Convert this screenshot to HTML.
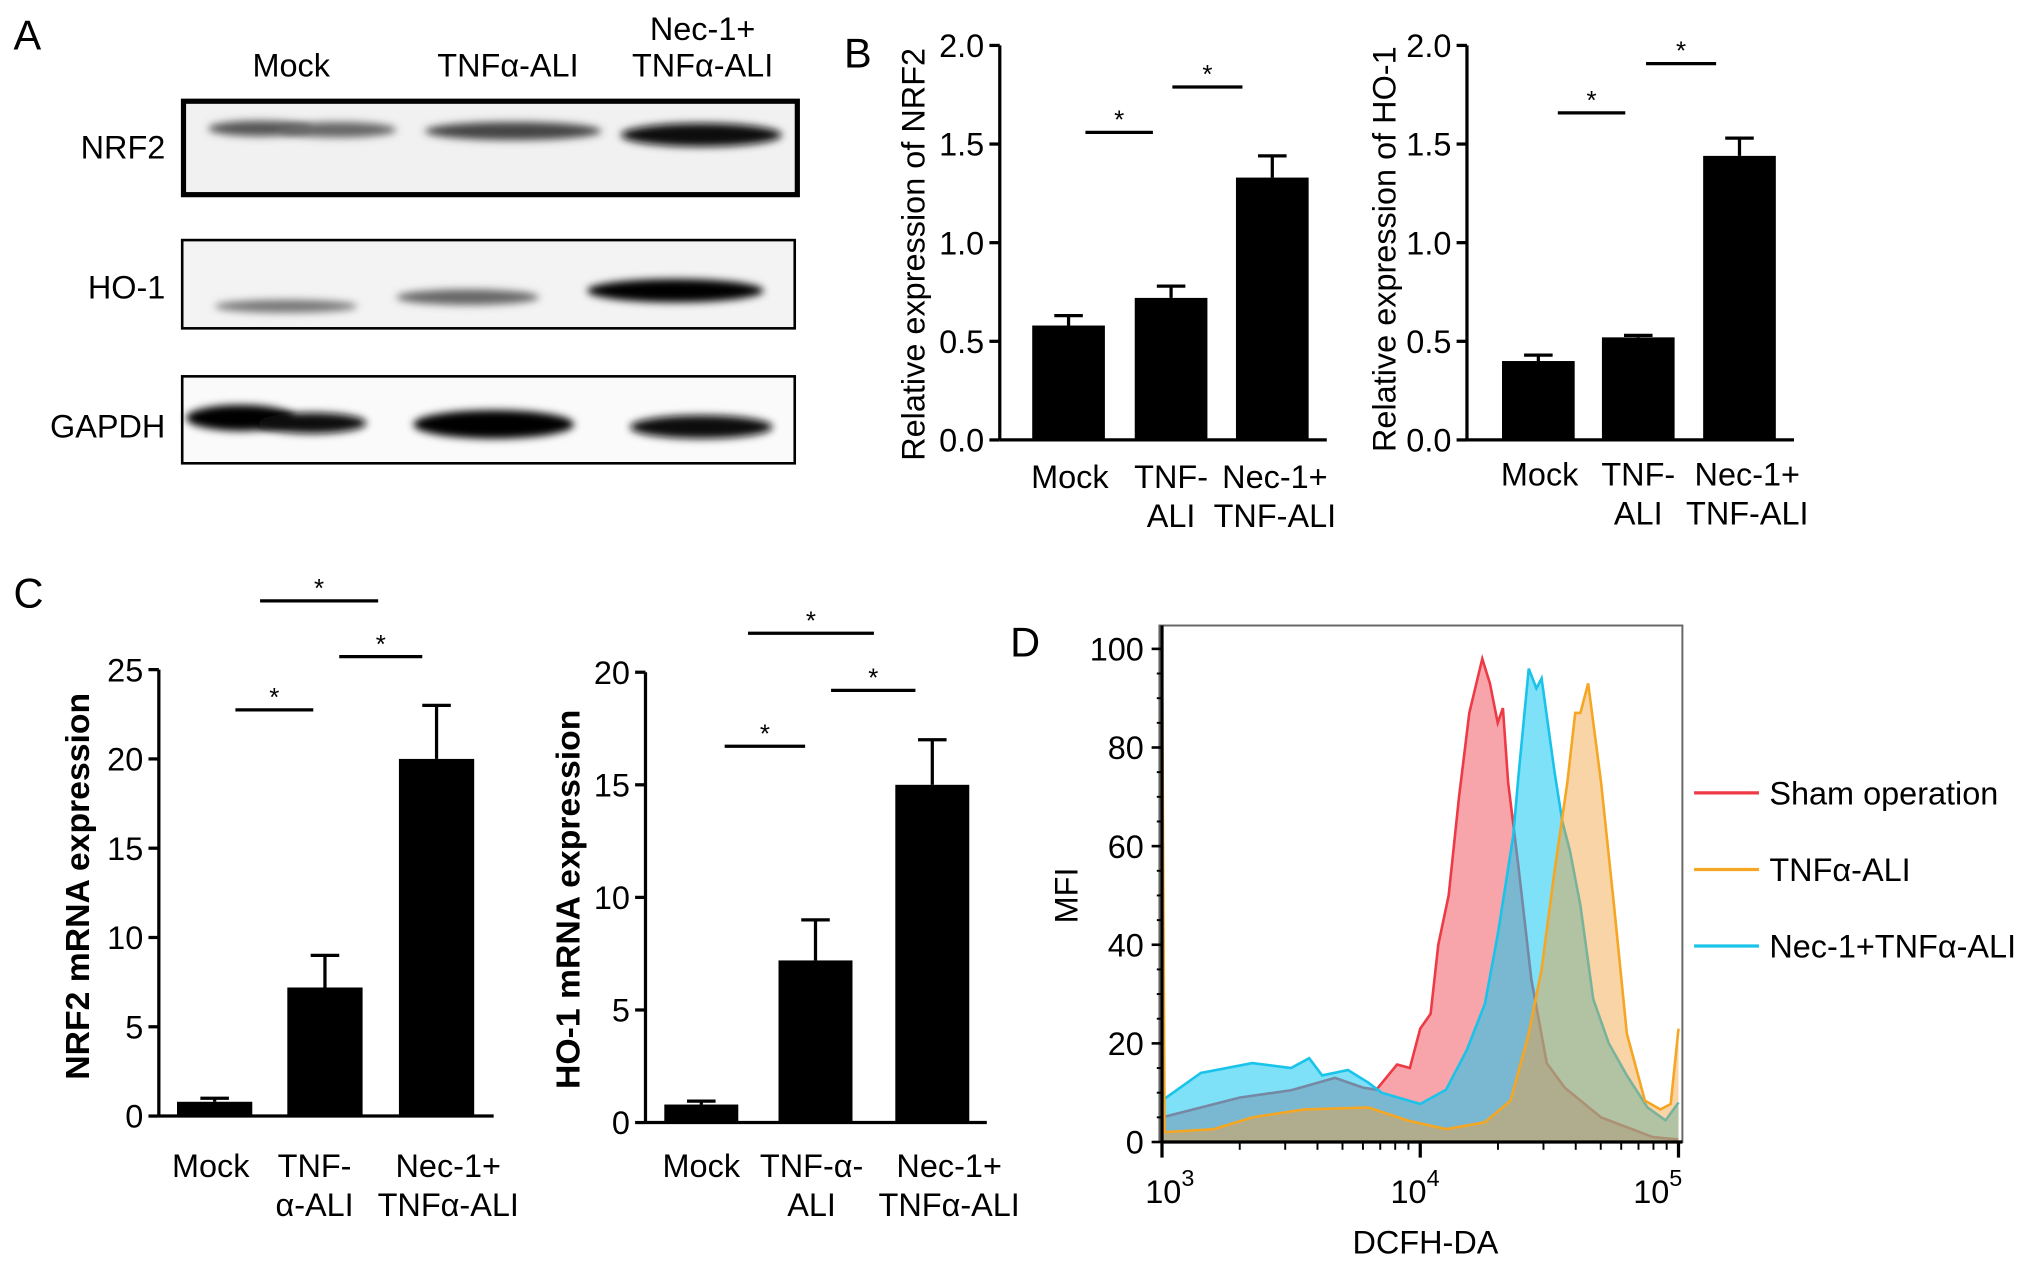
<!DOCTYPE html>
<html><head><meta charset="utf-8">
<style>
html,body{margin:0;padding:0;background:#fff;}
svg{display:block;font-family:"Liberation Sans",sans-serif;}
</style></head>
<body>
<svg id="fig" width="2032" height="1264" viewBox="0 0 1565 974" xmlns="http://www.w3.org/2000/svg">
<defs>
<filter id="blur2" x="-20%" y="-100%" width="140%" height="300%"><feGaussianBlur stdDeviation="3"/></filter>
</defs>
<g id="panelA">
<text x="10" y="38" font-size="32">A</text>
<text x="224" y="59" font-size="25" text-anchor="middle">Mock</text>
<text x="391" y="59" font-size="25" text-anchor="middle">TNFα-ALI</text>
<text x="541" y="31" font-size="25" text-anchor="middle">Nec-1+</text>
<text x="541" y="59" font-size="25" text-anchor="middle">TNFα-ALI</text>
<text x="127" y="122" font-size="25" text-anchor="end">NRF2</text>
<text x="127" y="230" font-size="25" text-anchor="end">HO-1</text>
<text x="127" y="337" font-size="25" text-anchor="end">GAPDH</text>
<g>
<rect x="141" y="78" width="473" height="72" fill="#f1f1f1" stroke="#000" stroke-width="4"/>
<ellipse cx="200" cy="99" rx="40" ry="6" fill="#555" filter="url(#blur2)"/>
<ellipse cx="260" cy="100" rx="45" ry="6" fill="#666" filter="url(#blur2)"/>
<ellipse cx="395" cy="101" rx="68" ry="7" fill="#444" filter="url(#blur2)"/>
<ellipse cx="540" cy="104" rx="62" ry="9" fill="#111" filter="url(#blur2)"/>
</g>
<g>
<rect x="140" y="185" width="472" height="68" fill="#f3f3f3" stroke="#000" stroke-width="2"/>
<ellipse cx="220" cy="236" rx="55" ry="5" fill="#777" filter="url(#blur2)"/>
<ellipse cx="360" cy="229" rx="55" ry="6" fill="#666" filter="url(#blur2)"/>
<ellipse cx="520" cy="224" rx="68" ry="9" fill="#000" filter="url(#blur2)"/>
</g>
<g>
<rect x="140" y="290" width="472" height="67" fill="#fafafa" stroke="#000" stroke-width="2"/>
<ellipse cx="185" cy="322" rx="42" ry="10" fill="#000" filter="url(#blur2)"/>
<ellipse cx="240" cy="326" rx="42" ry="8" fill="#111" filter="url(#blur2)"/>
<ellipse cx="380" cy="327" rx="62" ry="11" fill="#000" filter="url(#blur2)"/>
<ellipse cx="540" cy="329" rx="55" ry="9" fill="#111" filter="url(#blur2)"/>
</g>
</g>
<g id="bars"></g>
<g id="flow"></g>
</svg>
<script>
// ---------- Bar chart data ----------
const cats = ["Mock", "TNF", "Nec"];
const bNrf2Vals = [0.58, 0.72, 1.33];
const bNrf2Err = [0.05, 0.06, 0.11];
const bHo1Vals = [0.40, 0.52, 1.44];
const bHo1Err = [0.03, 0.01, 0.09];
const cNrf2Vals = [0.8, 7.2, 20];
const cNrf2Err = [0.2, 1.8, 3];
const cHo1Vals = [0.8, 7.2, 15];
const cHo1Err = [0.15, 1.8, 2];
const bTicks = [0, 0.5, 1.0, 1.5, 2.0];
const bTickLabels = ["0.0", "0.5", "1.0", "1.5", "2.0"];
const cNrf2Ticks = [0, 5, 10, 15, 20, 25];
const cHo1Ticks = [0, 5, 10, 15, 20];
// ---------- Flow histogram data (log10 fluorescence, % max) ----------
const redX = [3.0,3.15,3.3,3.5,3.67,3.78,3.83,3.91,3.96,4.0,4.04,4.07,4.11,4.15,4.19,4.24,4.27,4.3,4.32,4.34,4.38,4.43,4.49,4.56,4.7,4.9,5.0];
const redY = [5,7,9,10.5,13,11,10.6,15.7,15,23,26,40,50,70,87,98,93,85,88,73,56,33,16,11,5,1,0.5];
const cyanX = [3.0,3.15,3.35,3.5,3.57,3.62,3.72,3.8,3.85,4.0,4.1,4.18,4.25,4.3,4.36,4.38,4.42,4.45,4.47,4.52,4.55,4.58,4.62,4.67,4.73,4.8,4.88,4.95,5.0];
const cyanY = [8.4,14,16,15,17,13.5,14.6,12,10,7.7,10.6,18.6,28,42,62,74,96,92,94,75,65,59,48,29,20,13.5,7,4.4,8];
const orangeX = [3.0,3.01,3.2,3.35,3.55,3.8,3.95,4.1,4.25,4.35,4.42,4.47,4.52,4.57,4.6,4.62,4.65,4.7,4.75,4.8,4.87,4.93,4.97,5.0];
const orangeY = [100,2,2.6,5,6.6,7,4.4,2.6,4,8.4,22,35,55,73,87,87,93,73,48,22,8.4,6.6,7.7,23];
const flowYTicks = [0,20,40,60,80,100];
const legendLabels = ["Sham operation","TNFα-ALI","Nec-1+TNFα-ALI"];
const legendColors = ["#ee3a45","#f5a623","#19c3ea"];

const NS = "http://www.w3.org/2000/svg";
function mk(tag, attrs, parent, text){
  const e = document.createElementNS(NS, tag);
  for (const k in attrs) e.setAttribute(k, attrs[k]);
  if (text !== undefined) e.textContent = text;
  parent.appendChild(e);
  return e;
}
const barsG = document.getElementById("bars");

function barChart(cfg){
  const g = mk("g", {}, barsG);
  
  
  const y = v => cfg.y0 - (v / cfg.ymax) * (cfg.y0 - cfg.y1);
  const fs = cfg.fs;
  const ax = mk("line", {x1:cfg.ax, y1:y(cfg.ymax), x2:cfg.ax, y2:cfg.y0, stroke:"#000","stroke-width":2.5}, g);
  
  
  const xa = mk("line", {x1:cfg.ax, y1:cfg.y0, x2:cfg.xend, y2:cfg.y0, stroke:"#000","stroke-width":2.5}, g);
  
  
  cfg.ticks.forEach((t,i) => {
    mk("line", {x1:cfg.ax-8, y1:y(t), x2:cfg.ax, y2:y(t), stroke:"#000","stroke-width":2.5}, g);
    const tl = mk("text", {x:cfg.ax-12, y:y(t)+9, "font-size":fs, "text-anchor":"end"}, g, cfg.tickLabels ? cfg.tickLabels[i] : String(t));
    
    
  });
  cats.forEach((c,i) => {
    const cx = cfg.centers[i], v = cfg.vals[i], e = cfg.errs[i];
    mk("line", {x1:cx, y1:y(v+e), x2:cx, y2:y(v), stroke:"#000","stroke-width":2.5}, g);
    mk("line", {x1:cx-11, y1:y(v+e), x2:cx+11, y2:y(v+e), stroke:"#000","stroke-width":2.5}, g);
    const r = mk("rect", {x:cx-cfg.bw/2, y:y(v), width:cfg.bw, height:cfg.y0-y(v), fill:"#000"}, g);
    
    
    cfg.xlabels[i].forEach((s,j) => {
      const t = mk("text", {x:cfg.lx[i], y:cfg.ly + j*30, "font-size":fs, "text-anchor":"middle"}, g, s);
      
      
    });
  });
  cfg.sig.forEach(s => {
    const l = mk("line", {x1:s[0], y1:s[2], x2:s[1], y2:s[2], stroke:"#000","stroke-width":2.5}, g);
    
    
    const st = mk("text", {x:(s[0]+s[1])/2, y:s[2]-3, "font-size":20, "text-anchor":"middle"}, g, "*");
    
    
  });
  const tt = mk("text", {x:cfg.tx, y:cfg.ty, "font-size":cfg.tfs, "text-anchor":"middle", "font-weight":cfg.bold?"bold":"normal", transform:`rotate(-90 ${cfg.tx} ${cfg.ty})`}, g, cfg.title);
  
  
}

const lb = mk("text", {x:650, y:52, "font-size":32}, barsG, "B");


const lc = mk("text", {x:10, y:468, "font-size":32}, barsG, "C");



barChart({name:"chart-b-nrf2", ax:770, xend:1022, y0:339, y1:35, ymax:2.0, ticks:bTicks, tickLabels:bTickLabels,
  vals:bNrf2Vals, errs:bNrf2Err, centers:[823,902,980], bw:56, fs:25,
  xlabels:[["Mock"],["TNF-","ALI"],["Nec-1+","TNF-ALI"]], lx:[824,902,982], ly:376,
  sig:[[836,888,102],[903,957,67]], title:"Relative expression of NRF2", tx:712, ty:196, tfs:25});
barChart({name:"chart-b-ho1", ax:1130, xend:1382, y0:339, y1:35, ymax:2.0, ticks:bTicks, tickLabels:bTickLabels,
  vals:bHo1Vals, errs:bHo1Err, centers:[1185,1262,1340], bw:56, fs:25,
  xlabels:[["Mock"],["TNF-","ALI"],["Nec-1+","TNF-ALI"]], lx:[1186,1262,1346], ly:374,
  sig:[[1200,1252,87],[1268,1322,49]], title:"Relative expression of HO-1", tx:1075, ty:192, tfs:25});
barChart({name:"chart-c-nrf2", ax:122, xend:380, y0:860, y1:516, ymax:25, ticks:cNrf2Ticks,
  vals:cNrf2Vals, errs:cNrf2Err, centers:[165,250,336], bw:58, fs:25,
  xlabels:[["Mock"],["TNF-","α-ALI"],["Nec-1+","TNFα-ALI"]], lx:[162,242,345], ly:907,
  sig:[[181,241,547],[200,291,463],[261,325,506]], title:"NRF2 mRNA expression", tx:68, ty:683, tfs:26, bold:true});
barChart({name:"chart-c-ho1", ax:497, xend:760, y0:865, y1:518, ymax:20, ticks:cHo1Ticks,
  vals:cHo1Vals, errs:cHo1Err, centers:[540,628,718], bw:57, fs:25,
  xlabels:[["Mock"],["TNF-α-","ALI"],["Nec-1+","TNFα-ALI"]], lx:[540,625,731], ly:907,
  sig:[[558,620,575],[576,673,488],[640,705,532]], title:"HO-1 mRNA expression", tx:446, ty:693, tfs:26, bold:true});

// ---------- Flow panel ----------
const flowG = document.getElementById("flow");


const fx0 = 895, fx1 = 1293, fy0 = 880, fy1 = 500;
const fx = l => fx0 + (l - 3) / 2 * (fx1 - fx0);
const fy = v => fy0 - v / 100 * (fy0 - fy1);
const ld = mk("text", {x:778, y:506, "font-size":32}, flowG, "D");


const box = mk("rect", {x:893, y:482, width:403, height:398, fill:"none", stroke:"#666", "stroke-width":1.5}, flowG);


function hist(xs, ys, stroke, fill, name){
  let d = `M${fx(xs[0])},${fy0}`;
  xs.forEach((x,i) => { d += ` L${fx(x).toFixed(1)},${fy(ys[i]).toFixed(1)}`; });
  d += ` L${fx(xs[xs.length-1])},${fy0} Z`;
  const a = mk("path", {d:d, fill:fill, stroke:"none"}, flowG);
  
  
  let dl = "";
  xs.forEach((x,i) => { dl += (i?" L":"M") + fx(x).toFixed(1) + "," + fy(ys[i]).toFixed(1); });
  const l = mk("path", {d:dl, fill:"none", stroke:stroke, "stroke-width":2}, flowG);
  
  
}
hist(redX, redY, "#ee3a45", "rgba(240,90,100,0.55)", "sham-histogram");
hist(cyanX, cyanY, "#19c3ea", "rgba(20,200,240,0.55)", "nec-histogram");
hist(orangeX, orangeY, "#f5a623", "rgba(240,160,60,0.45)", "tnf-histogram");
mk("line", {x1:fx0, y1:fy0, x2:fx1+3, y2:fy0, stroke:"#000", "stroke-width":2.5}, flowG);
mk("line", {x1:fx0, y1:482, x2:fx0, y2:fy0, stroke:"#000", "stroke-width":2.5}, flowG);
flowYTicks.forEach(t => {
  mk("line", {x1:fx0-8, y1:fy(t), x2:fx0, y2:fy(t), stroke:"#000", "stroke-width":2}, flowG);
  const tl = mk("text", {x:fx0-14, y:fy(t)+9, "font-size":25, "text-anchor":"end"}, flowG, String(t));
  
  
});
for (let v = 0; v <= 100; v += 5) mk("line", {x1:fx0-4, y1:fy(v), x2:fx0, y2:fy(v), stroke:"#000", "stroke-width":1.5}, flowG);
for (let dec = 3; dec <= 4; dec++) for (let m = 2; m <= 9; m++) {
  const xx = fx(dec + Math.log10(m));
  mk("line", {x1:xx, y1:fy0, x2:xx, y2:fy0+6, stroke:"#000", "stroke-width":1.5}, flowG);
}
[3,4,5].forEach(p => {
  mk("line", {x1:fx(p), y1:fy0, x2:fx(p), y2:fy0+12, stroke:"#000", "stroke-width":2.5}, flowG);
  const t = mk("text", {x:fx(p) + (p===3?6:-4) - (p===5?12:0), y:fy0+47, "font-size":25, "text-anchor":"middle"}, flowG);
  
  
  mk("tspan", {}, t, "10");
  mk("tspan", {dy:-13, "font-size":18}, t, String(p));
});
const xt = mk("text", {x:1098, y:966, "font-size":25, "text-anchor":"middle"}, flowG, "DCFH-DA");


const yt = mk("text", {x:830, y:690, "font-size":25, "text-anchor":"middle", transform:"rotate(-90 830 690)"}, flowG, "MFI");


legendLabels.forEach((s,i) => {
  const yy = 611 + i*59;
  const l = mk("line", {x1:1305, y1:yy, x2:1355, y2:yy, stroke:legendColors[i], "stroke-width":2.5}, flowG);
  
  
  const t = mk("text", {x:1363, y:yy+9, "font-size":25}, flowG, s);
  
  
});
</script>
</body></html>
